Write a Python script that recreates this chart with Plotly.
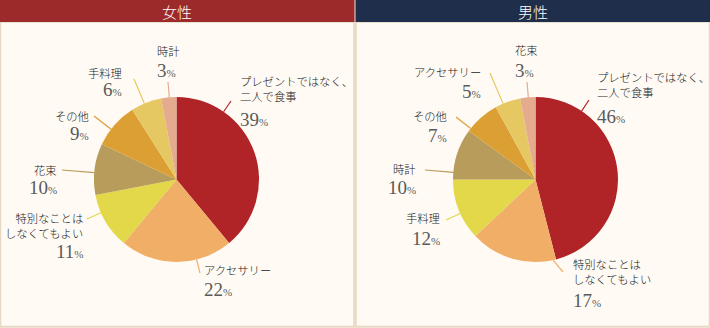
import math
import plotly.graph_objects as go

W, H = 710, 328

# ---- data ----
titles = ["女性", "男性"]
women_labels = ["プレゼントではなく、<br>二人で食事", "アクセサリー", "特別なことは<br>しなくてもよい",
                "花束", "その他", "手料理", "時計"]
women_values = [39, 22, 11, 10, 9, 6, 3]
men_labels = ["プレゼントではなく、<br>二人で食事", "特別なことは<br>しなくてもよい", "手料理",
              "時計", "その他", "アクセサリー", "花束"]
men_values = [46, 17, 12, 10, 7, 5, 3]

# ---- style ----
slice_colors = ["#b02428", "#f0ae67", "#e2d84a", "#b89c5b", "#dc9f34", "#e6c862", "#e5ab8f"]
header_colors = ["#9c2a2b", "#1f2e4b"]
bg = "#fffaf4"
border = "#e6d8c2"
jp_font = "Noto Sans CJK JP"
num_font = "Liberation Serif"
JP_SIZE = 11.3

R = 82.5
centers = [(176.5, 179.5), (535.5, 179.5)]

# label layout per panel: (anchor x, label block y-center, pct y, xanchor, leader end point)
layouts = [
    [  # women
        (239, 88, 119, "left", (231, 101)),
        (203, 270, 289, "left", (200, 273)),
        (84, 226, 251, "right", (87, 219)),
        (58, 170, 187.5, "right", (62, 170)),
        (90, 116, 134, "right", (94, 116)),
        (123, 73, 89, "right", (134, 79)),
        (156, 51, 71, "left", (168, 82)),
    ],
    [  # men
        (596, 84, 116, "left", (589, 100)),
        (572, 271.5, 300, "left", (563, 272)),
        (441, 218, 238, "right", (446, 220)),
        (417, 169, 188, "right", (425, 170)),
        (448, 116, 135, "right", (456, 117)),
        (482, 72, 91, "right", (490, 73)),
        (514, 50, 71, "left", (527, 82)),
    ],
]

def px(x):
    return x / W

def py(y):
    return 1 - y / H

fig = go.Figure()
shapes = []
annotations = []

panels = [(0, 354.5), (355.5, 710)]
for i, (x0, x1) in enumerate(panels):
    shapes.append(dict(type="rect", xref="paper", yref="paper",
                       x0=px(x0 + 0.5), x1=px(x1 - 0.5), y0=py(326.5), y1=py(22),
                       fillcolor=bg, line=dict(color=border, width=1.5), layer="below"))
    shapes.append(dict(type="rect", xref="paper", yref="paper",
                       x0=px(x0), x1=px(x1), y0=py(22), y1=py(0),
                       fillcolor=header_colors[i], line=dict(width=0), layer="below"))
    annotations.append(dict(xref="paper", yref="paper", x=px((x0 + x1) / 2), y=py(11),
                            text=titles[i], showarrow=False, xanchor="center", yanchor="middle",
                            font=dict(family=jp_font, size=15, color="white", weight=300)))

for i, (labels, values) in enumerate([(women_labels, women_values), (men_labels, men_values)]):
    cx, cy = centers[i]
    fig.add_trace(go.Pie(
        labels=[l.replace("<br>", "") for l in labels], values=values,
        sort=False, direction="clockwise", rotation=0,
        marker=dict(colors=slice_colors, line=dict(width=0)),
        textinfo="none", hoverinfo="label+percent", showlegend=False,
        domain=dict(x=[px(cx - R), px(cx + R)], y=[py(cy + R), py(cy - R)]),
    ))
    total = sum(values)
    cum = 0
    for j, v in enumerate(values):
        a0 = cum / total * 360
        cum += v
        a1 = cum / total * 360
        ax, ly, pyc, xa, (ex, ey) = layouts[i][j]
        # leader: from pie edge (nearest angle inside slice) to the label end
        th = math.degrees(math.atan2(ex - cx, -(ey - cy))) % 360
        m = min(2.0, (a1 - a0) / 4)
        th = max(a0 + m, min(a1 - m, th))
        sx = cx + R * math.sin(math.radians(th))
        sy = cy - R * math.cos(math.radians(th))
        shapes.append(dict(type="line", xref="paper", yref="paper",
                           x0=px(sx), y0=py(sy), x1=px(ex), y1=py(ey),
                           line=dict(color=slice_colors[j], width=1.2)))
        annotations.append(dict(xref="paper", yref="paper", x=px(ax), y=py(ly),
                                text=labels[j], showarrow=False, xanchor=xa, yanchor="middle",
                                align=xa, borderpad=0,
                                font=dict(family=jp_font, size=JP_SIZE, color="#1a1a1a", weight=300)))
        annotations.append(dict(xref="paper", yref="paper", x=px(ax), y=py(pyc),
                                text=f"{v}<span style='font-size:11px'>%</span>",
                                showarrow=False, xanchor=xa, yanchor="middle", borderpad=0,
                                font=dict(family=num_font, size=19, color="#5a5a5a")))

fig.update_layout(
    width=W, height=H, margin=dict(l=0, r=0, t=0, b=0),
    paper_bgcolor="#efe5d6", plot_bgcolor=bg,
    shapes=shapes, annotations=annotations,
)

fig.write_html("out.html")
